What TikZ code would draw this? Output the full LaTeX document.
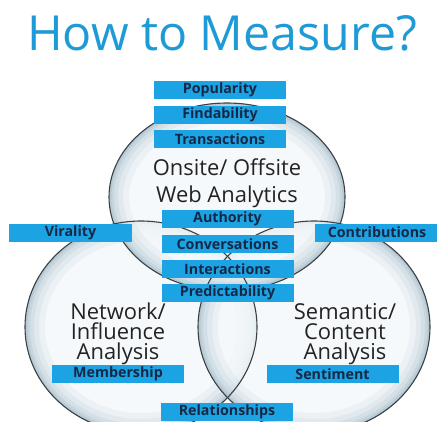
\documentclass[tikz,border=0pt]{standalone}
\usepackage{fontspec}
\setmainfont{Open Sans}
\definecolor{titleblue}{RGB}{30,155,215}
\definecolor{boxblue}{RGB}{28,163,228}
\definecolor{navy}{RGB}{22,40,70}
\definecolor{ink}{RGB}{35,35,35}
\definecolor{rim}{RGB}{60,64,66}
\definecolor{bubIn}{RGB}{244,248,250}
\definecolor{bubEdge}{RGB}{150,178,194}
\begin{document}
\begin{tikzpicture}[x=1bp,y=-1bp,
  tag/.style={fill=boxblue,text=navy,minimum width=132bp,minimum height=18bp,
    inner sep=0pt,font=\bfseries\fontsize{14.3}{16}\selectfont},
  label/.style={text=ink,inner sep=0pt,text height=15bp,text depth=3bp,
    font=\fontsize{22}{22}\selectfont},
  bubbleline/.style={draw=rim,line width=1.1bp}]
\useasboundingbox (0,0) rectangle (437,421);
\fill[white] (0,0) rectangle (437,421);

% bubble: pale body with a soft blue-grey ring just inside its outline
\newcommand{\bubblebody}[3]{%
  \fill[bubIn,opacity=0.8] (#1) ellipse [x radius=#2, y radius=#3];
  \begin{scope}
    \clip (#1) ellipse [x radius=#2, y radius=#3];
    \foreach \w/\o in {40/0.10,28/0.12,18/0.16,10/0.22,5/0.3}
      \draw[bubEdge,line width=\w bp,opacity=\o] (#1) ellipse [x radius=#2, y radius=#3];
  \end{scope}}
\bubblebody{141,327}{116}{106}
\bubblebody{314,327}{116}{106}
\bubblebody{227,197}{118}{94}
\draw[bubbleline] (141,327) ellipse [x radius=116, y radius=106];
\draw[bubbleline] (314,327) ellipse [x radius=116, y radius=106];
\draw[bubbleline] (227,197) ellipse [x radius=118, y radius=94];

% title
\node[text=titleblue,inner sep=0pt,font=\fontsize{48.5}{48}\selectfont]
  (title) at (222,33) {How to Measure?};

% circle captions, one node per line
\node[label] (web) at (227,169) {Onsite/ Offsite};
\node[label] (web2) at (227,196) {Web Analytics};
\node[label] (network1) at (118,313) {Network/};
\node[label] (network2) at (118,333) {Influence};
\node[label] (network3) at (118,353) {Analysis};
\node[label] (semantic1) at (345,313) {Semantic/};
\node[label] (semantic2) at (345,333) {Content};
\node[label] (semantic3) at (345,353) {Analysis};

% metric tags
\node[tag] (popularity) at (220,90) {Popularity};
\node[tag] (findability) at (220,114.5) {Findability};
\node[tag] (transactions) at (220,139) {Transactions};
\node[tag] (authority) at (227.5,219) {Authority};
\node[tag,minimum width=123bp] (virality) at (70.5,232.5) {Virality};
\node[tag,minimum width=124bp] (contributions) at (377,232.5) {Contributions};
\node[tag] (conversations) at (227.5,244) {Conversations};
\node[tag] (interactions) at (227.5,269) {Interactions};
\node[tag] (predictability) at (227.5,293) {Predictability};
\node[tag] (membership) at (118,374) {Membership};
\node[tag] (sentiment) at (332.5,374) {Sentiment};
\node[tag] (relationships) at (227,411.5) {Relationships};
\end{tikzpicture}
\end{document}
